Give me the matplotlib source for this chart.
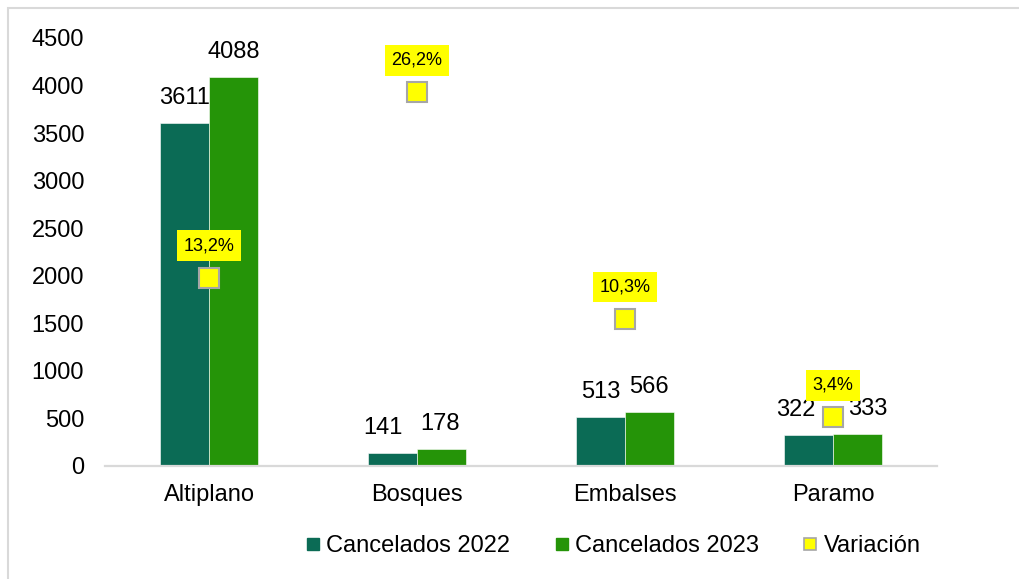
import matplotlib
matplotlib.use("Agg")
import matplotlib.pyplot as plt
from matplotlib.lines import Line2D
from matplotlib.patches import Rectangle
import numpy as np

categories = ["Altiplano", "Bosques", "Embalses", "Paramo"]
cancelados_2022 = [3611, 141, 513, 322]
cancelados_2023 = [4088, 178, 566, 333]
variacion = [0.132, 0.262, 0.103, 0.034]
variacion_labels = ["13,2%", "26,2%", "10,3%", "3,4%"]
y_ticks = [0, 500, 1000, 1500, 2000, 2500, 3000, 3500, 4000, 4500]

# label nudges (pixels) as Excel placed them
nudge_2022 = [0, -10, 0, -13]
nudge_2023 = [0, -2, -1, 10]

c22 = "#0B6B55"
c23 = "#259408"
yellow = "#FFFF00"
gray_edge = "#A6A6A6"

plt.rcParams['font.family'] = ['Liberation Sans', 'DejaVu Sans']

fig = plt.figure(figsize=(10.2, 5.79), dpi=100)
W, H = 1020, 579
ax = fig.add_axes([105 / W, 1 - 466 / H, (937 - 105) / W, (466 - 38) / H])

x = np.arange(len(categories))
bw = 0.236
ax.bar(x - bw / 2, cancelados_2022, bw, color=c22, edgecolor="white", linewidth=0.4, label="Cancelados 2022")
ax.bar(x + bw / 2, cancelados_2023, bw, color=c23, edgecolor="white", linewidth=0.4, label="Cancelados 2023")

ax.set_xlim(-0.5, len(categories) - 0.5)
ax.set_ylim(0, 4500)
ax.set_yticks(y_ticks)
ax.set_xticks(x)
ax.set_xticklabels(categories)
ax.tick_params(axis="y", length=0, pad=15, labelsize=17)
ax.tick_params(axis="x", length=0, pad=13, labelsize=17)
for s in ["top", "right", "left"]:
    ax.spines[s].set_visible(False)
ax.spines["bottom"].set_color("#D9D9D9")
ax.spines["bottom"].set_linewidth(1.6)

for i, (v1, v2) in enumerate(zip(cancelados_2022, cancelados_2023)):
    ax.annotate(f"{v1}", (x[i] - bw / 2, v1), xytext=(nudge_2022[i], 25), textcoords="offset pixels",
                ha="center", va="center", fontsize=17)
    ax.annotate(f"{v2}", (x[i] + bw / 2, v2), xytext=(nudge_2023[i], 25), textcoords="offset pixels",
                ha="center", va="center", fontsize=17)

ax2 = ax.twinx()
ax2.set_ylim(0, 0.30)
ax2.axis("off")
ax2.plot(x, variacion, linestyle="none", marker="s", markersize=14, markerfacecolor=yellow,
         markeredgecolor=gray_edge, markeredgewidth=1.5, label="Variación")
for i, v in enumerate(variacion):
    ax2.annotate(variacion_labels[i], (x[i], v), xytext=(0, 32), textcoords="offset pixels",
                 ha="center", va="center", fontsize=13,
                 bbox=dict(boxstyle="square,pad=0.38", facecolor=yellow, edgecolor="none"))

handles = [
    Line2D([], [], linestyle="none", marker="s", markersize=8.5, markerfacecolor=c22, markeredgecolor=c22),
    Line2D([], [], linestyle="none", marker="s", markersize=8.5, markerfacecolor=c23, markeredgecolor=c23),
    Line2D([], [], linestyle="none", marker="s", markersize=8.5, markerfacecolor=yellow,
           markeredgecolor=gray_edge, markeredgewidth=1.2),
]
fig.legend(handles, ["Cancelados 2022", "Cancelados 2023", "Variación"], loc="center",
           bbox_to_anchor=(613 / W, 1 - 546 / H), ncol=3, frameon=False, fontsize=17,
           handlelength=0.6, handletextpad=0.25, columnspacing=1.9, borderaxespad=0)

fig.patches.append(Rectangle((8 / W, -0.5), 2.0, 1.5 - 8 / H, transform=fig.transFigure,
                             fill=False, edgecolor="#D9D9D9", linewidth=1.5, zorder=-1))

fig.savefig("out.png", dpi=100)
